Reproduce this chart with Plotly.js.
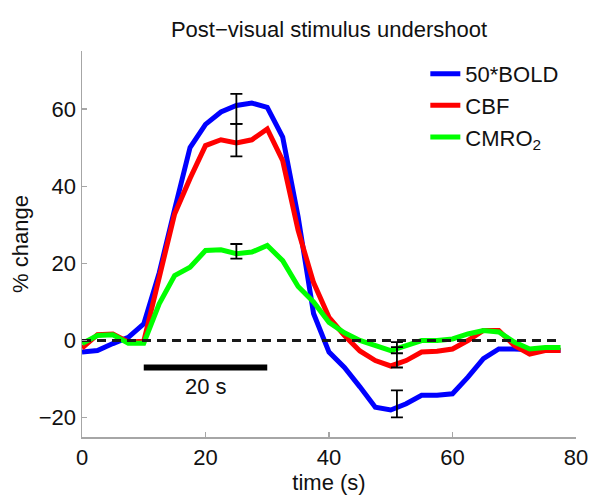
<!DOCTYPE html>
<html>
<head>
<meta charset="utf-8">
<script src="https://cdn.plot.ly/plotly-3.0.1.min.js"></script>
<style>html,body{margin:0;padding:0;background:#fff;}#chart{width:600px;height:501px;}</style>
</head>
<body>
<div id="chart"></div>
<script>
// time axis (s)
const time = [0, 2.5, 5, 7.5, 10, 12.5, 15, 17.5, 20, 22.5, 25, 27.5, 30, 32.5, 35, 37.5,
              40, 42.5, 45, 47.5, 50, 52.5, 55, 57.5, 60, 62.5, 65, 67.5, 70, 72.5, 75, 77.5];
// series (% change)
const bold50 = [-3, -2.6, -0.8, 0.8, 4.3, 17.5, 34, 50, 56, 59.2, 60.9, 61.5, 60.4, 52.7, 32, 7,
                -3, -7, -12, -17.3, -18, -16.4, -14.2, -14.2, -13.8, -9.5, -4.7, -2.2, -2.2, -2.5, -2.5, -2.5];
const cbf = [-2, 1.5, 1.7, -0.4, -0.2, 16, 32.8, 42, 50.5, 52, 51.2, 52, 54.8, 46.6, 28.5, 15,
             6, 1.3, -2.7, -5.2, -6.6, -5.2, -3, -2.8, -2.2, 0, 2.6, 2.6, -1.3, -3.5, -2.6, -2.6];
const cmro2 = [-0.8, 1.3, 1.5, -0.7, -0.7, 9.5, 16.8, 19, 23.3, 23.5, 22.5, 22.9, 24.6, 20.7, 14, 10,
               4.7, 2, 0, -1.3, -2.6, -1.3, 0, 0, 0.4, 1.7, 2.6, 2.2, -0.4, -2.2, -1.8, -1.8];
// error bars
const errTime = [25, 25, 25, 51, 51, 51];
const errCenter = [60, 51.9, 23.1, -16.4, -3.7, -2.5];
const errHalf = [3.9, 4.2, 1.9, 3.5, 3.3, 0.8];
// scale bar
const scaleBarTime = [10, 30];
const scaleBarLevel = -7;
const scaleBarLabel = '20 s';
const scaleBarLabelLevel = -12;
// names / ticks
const seriesNames = ['50*BOLD', 'CBF', 'CMRO<sub>2</sub>'];
const xTicks = [0, 20, 40, 60, 80];
const yTicks = [-20, 0, 20, 40, 60];

const FONT = 'Liberation Sans, Arial, Helvetica, sans-serif';
const axisColor = '#a6a6a6';

const traces = [
  {x: time, y: bold50, name: seriesNames[0], mode: 'lines', line: {color: '#0000ff', width: 5}},
  {x: time, y: cbf, name: seriesNames[1], mode: 'lines', line: {color: '#ff0000', width: 5}},
  {x: time, y: cmro2, name: seriesNames[2], mode: 'lines', line: {color: '#00ff00', width: 5}},
  {x: [time[0], time[time.length - 1]], y: [0, 0], mode: 'lines', showlegend: false, hoverinfo: 'skip',
   line: {color: '#1a1a1a', width: 3, dash: '9px,6px'}},
  {x: errTime, y: errCenter, mode: 'markers', showlegend: false,
   marker: {size: 1, opacity: 0},
   error_y: {type: 'data', array: errHalf, visible: true, color: '#000', thickness: 1.8, width: 6}},
  {x: scaleBarTime, y: [scaleBarLevel, scaleBarLevel], mode: 'lines', showlegend: false,
   line: {color: '#000', width: 6}}
];

const layout = {
  width: 600, height: 501,
  margin: {l: 82, r: 24, t: 51, b: 64},
  paper_bgcolor: '#fff', plot_bgcolor: '#fff',
  font: {family: FONT, size: 22, color: '#111'},
  title: {text: 'Post\u2212visual stimulus undershoot', x: 0.5, xref: 'paper', xanchor: 'center',
          y: 1 - 29 / 501, yref: 'container', yanchor: 'middle', font: {family: FONT, size: 22, color: '#111'}},
  xaxis: {range: [0, 80], tickvals: xTicks, ticks: 'inside', ticklen: 5, tickcolor: axisColor, tickwidth: 1.2,
          showline: true, linecolor: axisColor, linewidth: 1.5, showgrid: false, zeroline: false,
          tickfont: {family: FONT, size: 22, color: '#111'},
          title: {text: 'time (s)', font: {family: FONT, size: 22, color: '#111'}, standoff: 4}},
  yaxis: {range: [-25, 75], tickvals: yTicks, ticks: 'inside', ticklen: 5, tickcolor: axisColor, tickwidth: 1.2,
          showline: true, linecolor: axisColor, linewidth: 1.5, showgrid: false, zeroline: false,
          tickfont: {family: FONT, size: 22, color: '#111'},
          title: {text: '% change', font: {family: FONT, size: 22, color: '#111'}}},
  legend: {x: 0.695, y: 0.995, xanchor: 'left', yanchor: 'top', bgcolor: 'rgba(0,0,0,0)',
           font: {family: FONT, size: 22, color: '#111'}, tracegroupgap: 0},
  annotations: [
    {x: (scaleBarTime[0] + scaleBarTime[1]) / 2, y: scaleBarLabelLevel, xref: 'x', yref: 'y',
     text: scaleBarLabel, showarrow: false, font: {family: FONT, size: 22, color: '#111'}}
  ],
  showlegend: true
};

Plotly.newPlot('chart', traces, layout, {staticPlot: true, displayModeBar: false});
</script>
</body>
</html>
